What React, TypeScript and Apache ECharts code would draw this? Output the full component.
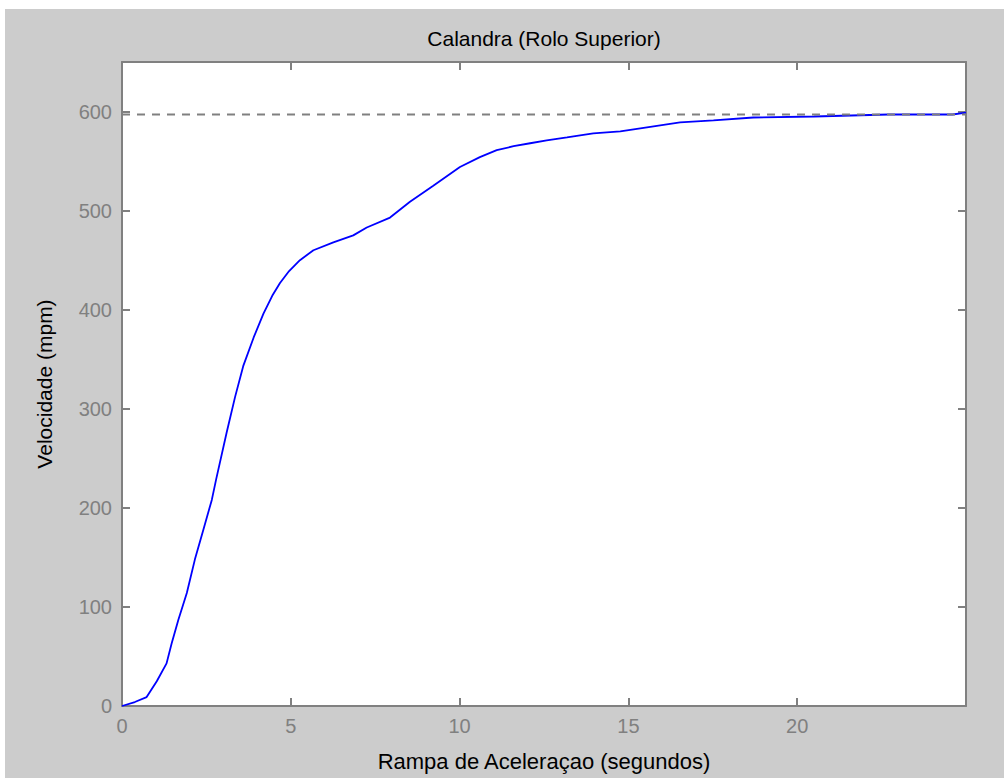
import React, { useEffect, useRef } from "react";
import * as echarts from "echarts";

const title = "Calandra (Rolo Superior)";
const xName = "Rampa de Aceleraçao (segundos)";
const yName = "Velocidade (mpm)";

const time = [0, 0.38, 0.73, 1.03, 1.32, 1.47, 1.67, 1.92, 2.16, 2.41, 2.66, 2.79, 3.1, 3.35, 3.59, 3.9, 4.19, 4.45, 4.68, 4.95, 5.27, 5.67, 6.26, 6.85, 7.25, 7.94, 8.53, 9.22, 10.01, 10.6, 11.1, 11.6, 12.09, 12.58, 13.18, 13.96, 14.76, 15.55, 16.53, 17.52, 18.7, 20.5, 22.7, 24.6, 25];
const speed = [0, 4, 9, 25, 43, 63, 87, 114, 148, 178, 208, 229, 276, 312, 343, 372, 396, 414, 427, 439, 450, 460, 468, 475, 483, 493, 509, 525, 544, 554, 561, 565, 568, 571, 574, 578, 580, 584, 589, 591, 594, 595, 597, 597, 599];

const refX = [0, 25];
const refY = [597, 597];

const FONT = "'Liberation Sans', Arial, sans-serif";
const AX = "#808080";

export default function App() {
  const ref = useRef<HTMLDivElement>(null);
  useEffect(() => {
    if (!ref.current) return;
    const chart = echarts.init(ref.current, null, { renderer: "svg" });
    const axisLine = { show: true, onZero: false, lineStyle: { color: AX, width: 2 } };
    const axisTick = { show: true, inside: true, length: 8, lineStyle: { color: AX, width: 2 } };
    const nameStyle = { color: "#000", fontSize: 21, fontFamily: FONT };
    chart.setOption({
      animation: false,
      backgroundColor: "#cccccc",
      grid: { left: 117, right: 38, top: 53, bottom: 72, show: true, backgroundColor: "#ffffff", borderWidth: 0 },
      xAxis: [
        {
          type: "value", position: "bottom", min: 0, max: 25, interval: 5,
          axisLine, axisTick, splitLine: { show: false },
          axisLabel: { color: AX, fontSize: 20, fontFamily: FONT, margin: 10, showMaxLabel: false },
          name: xName, nameLocation: "middle", nameGap: 44, nameTextStyle: { ...nameStyle, fontSize: 22 },
        },
        {
          type: "value", position: "top", min: 0, max: 25, interval: 5,
          axisLine, axisTick, splitLine: { show: false }, axisLabel: { show: false },
          name: title, nameLocation: "middle", nameGap: 13, nameTextStyle: nameStyle,
        },
      ],
      yAxis: [
        {
          type: "value", position: "left", min: 0, max: 650, interval: 100,
          axisLine, axisTick, splitLine: { show: false },
          axisLabel: { color: AX, fontSize: 20, fontFamily: FONT, margin: 10, showMaxLabel: false },
          name: yName, nameLocation: "middle", nameGap: 67, nameRotate: 90, nameTextStyle: nameStyle,
        },
        {
          type: "value", position: "right", min: 0, max: 650, interval: 100,
          axisLine, axisTick, splitLine: { show: false }, axisLabel: { show: false },
        },
      ],
      series: [
        {
          type: "line", xAxisIndex: 0, yAxisIndex: 0, showSymbol: false, symbol: "none",
          data: time.map((t, i) => [t, speed[i]]),
          lineStyle: { color: "#0000ff", width: 1.8 },
        },
        {
          type: "line", xAxisIndex: 0, yAxisIndex: 0, showSymbol: false, symbol: "none",
          data: refX.map((t, i) => [t, refY[i]]),
          lineStyle: { color: AX, width: 2, type: [8, 7] },
        },
      ],
    });
    return () => chart.dispose();
  }, []);
  return (
    <div
      ref={ref}
      style={{ position: "absolute", left: 5, top: 9, width: 999, height: 769 }}
    />
  );
}
